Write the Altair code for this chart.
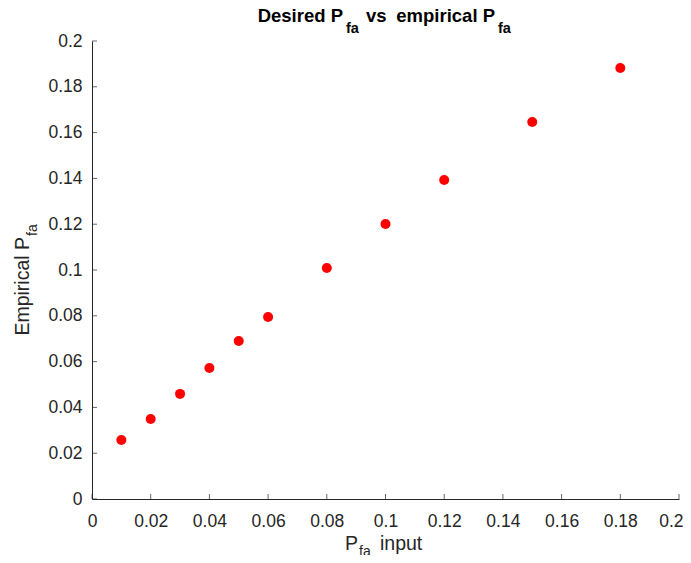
import altair as alt
import pandas as pd

pfa_input = [0.01, 0.02, 0.03, 0.04, 0.05, 0.06, 0.08, 0.10, 0.12, 0.15, 0.18]
pfa_empirical = [0.0258, 0.0349, 0.0459, 0.0572, 0.0690, 0.0795, 0.1009, 0.1201, 0.1393, 0.1646, 0.1882]
tick_values = [0, 0.02, 0.04, 0.06, 0.08, 0.1, 0.12, 0.14, 0.16, 0.18, 0.2]

W, H = 587, 458
AX = "#262626"
FONT = "Liberation Sans"

df = pd.DataFrame({"x": pfa_input, "y": pfa_empirical})
ticks_df = pd.DataFrame({"t": tick_values})

xs = alt.Scale(domain=[0, 0.2], nice=False, zero=False)
ys = alt.Scale(domain=[0, 0.2], nice=False, zero=False)

lab = "format(datum.value, '.2~f')"

points = alt.Chart(df).mark_circle(size=100, color="#ff0000", opacity=1).encode(
    x=alt.X("x:Q", scale=xs, axis=alt.Axis(values=tick_values, labelExpr=lab, title=None,
            grid=False, ticks=False, tickSize=0, domainColor=AX, labelColor=AX,
            labelFontSize=17.5, labelFont=FONT, labelPadding=13, labelFlush=False,
            labelAlign={"condition": {"test": "datum.value > 0.19", "value": "right"}, "value": "center"},
            labelOffset={"condition": {"test": "datum.value > 0.19", "value": 4}, "value": 0})),
    y=alt.Y("y:Q", scale=ys, axis=alt.Axis(values=tick_values, labelExpr=lab, title=None,
            grid=False, ticks=False, tickSize=0, domainColor=AX, labelColor=AX,
            labelFontSize=17.5, labelFont=FONT, labelPadding=10, labelFlush=False)),
)

xticks = alt.Chart(ticks_df).mark_tick(orient="vertical", color=AX, size=5, thickness=1).encode(
    x=alt.X("t:Q", scale=xs), y=alt.value(H - 2.5)
)
yticks = alt.Chart(ticks_df).mark_tick(orient="horizontal", color=AX, size=5, thickness=1).encode(
    y=alt.Y("t:Q", scale=ys), x=alt.value(2.5)
)

def txt(s, x, y, size, align="left", bold=False, angle=0, color=AX):
    return alt.Chart(pd.DataFrame({"s": [s]})).mark_text(
        align=align, baseline="alphabetic", font=FONT, fontSize=size,
        fontWeight="bold" if bold else "normal", angle=angle, color=color
    ).encode(text="s:N", x=alt.value(x), y=alt.value(y))

title_parts = [
    txt("Desired P", 251, -19, 18.5, "right", True, color="#000000"),
    txt("fa", 254, -8, 14.5, "left", True, color="#000000"),
    txt("vs", 274, -19, 18.5, "left", True, color="#000000"),
    txt("empirical P", 403, -19, 18.5, "right", True, color="#000000"),
    txt("fa", 406, -8, 14.5, "left", True, color="#000000"),
]
xtitle = [
    txt("P", 266, 509, 19.5, "right"),
    txt("fa", 267, 515, 14, "left"),
    txt("input", 288, 509, 19.5, "left"),
]
ytitle = [
    txt("Empirical P", -63, 196, 19.5, "right", angle=270),
    txt("fa", -55, 195, 14, "left", angle=270),
]

chart = alt.layer(points, xticks, yticks, *title_parts, *xtitle, *ytitle).properties(
    width=W, height=H,
    autosize=alt.AutoSizeParams(type="none"),
    padding={"left": 84, "top": 33, "right": 4, "bottom": 56},
).configure_view(stroke=None).configure_axis(domainWidth=1)

chart.save("out.html", embed_options={"renderer": "svg", "actions": False})
